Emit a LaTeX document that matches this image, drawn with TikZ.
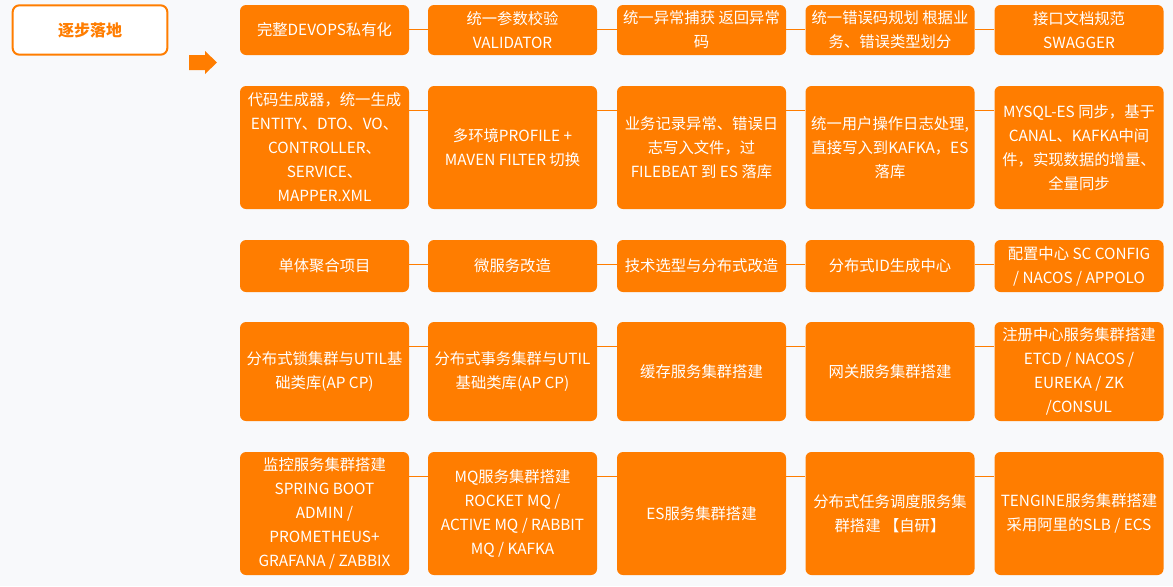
\documentclass[tikz,border=0pt]{standalone}
\usepackage{fontspec}
\setmainfont{Noto Sans CJK SC}
\usetikzlibrary{positioning}
\definecolor{mainorange}{HTML}{FF7D00}
\definecolor{pagebg}{HTML}{F8F9FB}
\tikzstyle{taskbox} = [fill=mainorange,text=white,rounded corners=4.5pt,minimum width=126.75pt,align=center,inner sep=0pt,font=\fontsize{11.5}{18}\selectfont]
\tikzstyle{rowa} = [taskbox,minimum height=37.5pt]
\tikzstyle{rowb} = [taskbox,minimum height=92.25pt]
\tikzstyle{rowc} = [taskbox,minimum height=39pt]
\tikzstyle{rowd} = [taskbox,minimum height=74.25pt]
\tikzstyle{link} = [draw=mainorange,line width=0.75pt]

\begin{document}
\begin{tikzpicture}[x=0.75pt,y=-0.75pt]
    \fill[pagebg] (0,0) rectangle (1173,586);
    \useasboundingbox (0,0) rectangle (1173,586);

    \node[draw=mainorange,line width=1.5pt,fill=white,rounded corners=5pt,minimum width=116pt,minimum height=37pt,text=mainorange,font=\fontsize{12}{18}\selectfont\bfseries] (title) at (90,30) {逐步落地};
    \fill[mainorange] (189,55) -- (205,55) -- (205,51) -- (217,62.5) -- (205,74) -- (205,70) -- (189,70) -- cycle;

    % first row
    \node[rowa] (devops) at (324.5,30) {完整DEVOPS私有化};
    \node[rowa] (valid) at (512.5,30) {统一参数校验\\VALIDATOR};
    \node[rowa] (exc) at (701.5,30) {统一异常捕获 返回异常\\码};
    \node[rowa] (errcode) at (890,30) {统一错误码规划 根据业\\务、错误类型划分};
    \node[rowa] (swagger) at (1079,30) {接口文档规范\\SWAGGER};

    % second row
    \node[rowb] (codegen) at (324.5,147.5) {代码生成器，统一生成\\ENTITY、DTO、VO、\\CONTROLLER、\\SERVICE、\\MAPPER.XML};
    \node[rowb] (profile) at (512.5,147.5) {多环境PROFILE +\\MAVEN FILTER 切换};
    \node[rowb] (filebeat) at (701.5,147.5) {业务记录异常、错误日\\志写入文件，过\\FILEBEAT 到 ES 落库};
    \node[rowb] (oplog) at (890,147.5) {统一用户操作日志处理,\\直接写入到KAFKA，ES\\落库};
    \node[rowb] (mysqles) at (1079,147.5) {MYSQL-ES 同步，基于\\CANAL、KAFKA中间\\件，实现数据的增量、\\全量同步};

    % third row
    \node[rowc] (mono) at (324.5,266) {单体聚合项目};
    \node[rowc] (micro) at (512.5,266) {微服务改造};
    \node[rowc] (tech) at (701.5,266) {技术选型与分布式改造};
    \node[rowc] (idgen) at (890,266) {分布式ID生成中心};
    \node[rowc] (config) at (1079,266) {配置中心 SC CONFIG\\/ NACOS / APPOLO};

    % fourth row
    \node[rowd] (lock) at (324.5,371.5) {分布式锁集群与UTIL基\\础类库(AP CP)};
    \node[rowd] (tx) at (512.5,371.5) {分布式事务集群与UTIL\\基础类库(AP CP)};
    \node[rowd] (cache) at (701.5,371.5) {缓存服务集群搭建};
    \node[rowd] (gateway) at (890,371.5) {网关服务集群搭建};
    \node[rowd] (registry) at (1079,371.5) {注册中心服务集群搭建\\ETCD / NACOS /\\EUREKA / ZK\\/CONSUL};

    % fifth row
    \node[rowb] (monitor) at (324.5,513.5) {监控服务集群搭建\\SPRING BOOT\\ADMIN /\\PROMETHEUS+\\GRAFANA / ZABBIX};
    \node[rowb] (mq) at (512.5,513.5) {MQ服务集群搭建\\ROCKET MQ /\\ACTIVE MQ / RABBIT\\MQ / KAFKA};
    \node[rowb] (es) at (701.5,513.5) {ES服务集群搭建};
    \node[rowb] (sched) at (890,513.5) {分布式任务调度服务集\\群搭建 【自研】};
    \node[rowb] (tengine) at (1079,513.5) {TENGINE服务集群搭建\\采用阿里的SLB / ECS};

    \path[link] ([yshift=-18.75pt]devops.north east) -- ([yshift=-18.75pt]valid.north west);
    \path[link] ([yshift=-18.75pt]valid.north east) -- ([yshift=-18.75pt]exc.north west);
    \path[link] ([yshift=-18.75pt]exc.north east) -- ([yshift=-18.75pt]errcode.north west);
    \path[link] ([yshift=-18.75pt]errcode.north east) -- ([yshift=-18.75pt]swagger.north west);
    \path[link] ([yshift=-18.75pt]codegen.north east) -- ([yshift=-18.75pt]profile.north west);
    \path[link] ([yshift=-18.75pt]profile.north east) -- ([yshift=-18.75pt]filebeat.north west);
    \path[link] ([yshift=-18.75pt]filebeat.north east) -- ([yshift=-18.75pt]oplog.north west);
    \path[link] ([yshift=-18.75pt]oplog.north east) -- ([yshift=-18.75pt]mysqles.north west);
    \path[link] ([yshift=-18.75pt]mono.north east) -- ([yshift=-18.75pt]micro.north west);
    \path[link] ([yshift=-18.75pt]micro.north east) -- ([yshift=-18.75pt]tech.north west);
    \path[link] ([yshift=-18.75pt]tech.north east) -- ([yshift=-18.75pt]idgen.north west);
    \path[link] ([yshift=-18.75pt]idgen.north east) -- ([yshift=-18.75pt]config.north west);
    \path[link] ([yshift=-18.75pt]lock.north east) -- ([yshift=-18.75pt]tx.north west);
    \path[link] ([yshift=-18.75pt]tx.north east) -- ([yshift=-18.75pt]cache.north west);
    \path[link] ([yshift=-18.75pt]cache.north east) -- ([yshift=-18.75pt]gateway.north west);
    \path[link] ([yshift=-18.75pt]gateway.north east) -- ([yshift=-18.75pt]registry.north west);
    \path[link] ([yshift=-18.75pt]monitor.north east) -- ([yshift=-18.75pt]mq.north west);
    \path[link] ([yshift=-18.75pt]mq.north east) -- ([yshift=-18.75pt]es.north west);
    \path[link] ([yshift=-18.75pt]es.north east) -- ([yshift=-18.75pt]sched.north west);
    \path[link] ([yshift=-18.75pt]sched.north east) -- ([yshift=-18.75pt]tengine.north west);
\end{tikzpicture}
\end{document}
